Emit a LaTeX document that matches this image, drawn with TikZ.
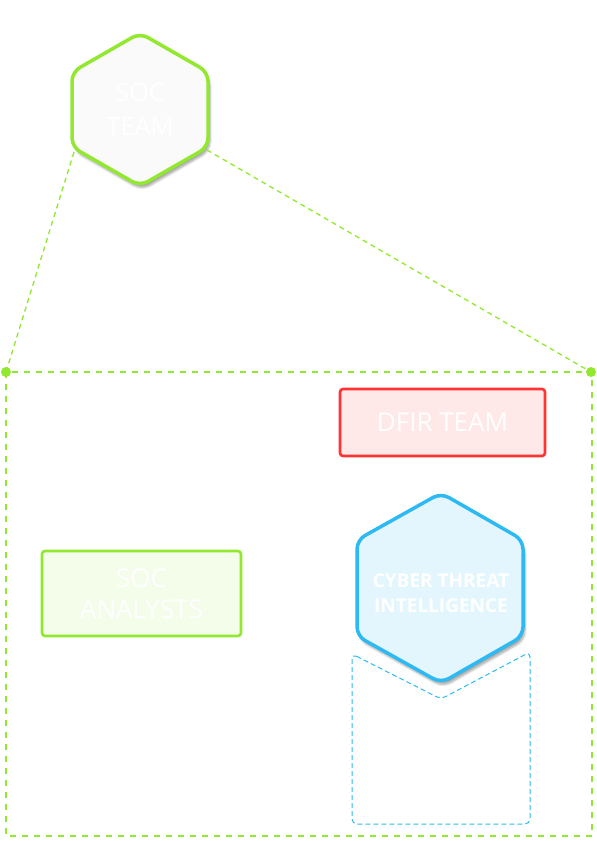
\documentclass[tikz,border=0pt]{standalone}
\usepackage{fontspec}
\setmainfont{Open Sans}
\usetikzlibrary{shadows.blur}
\definecolor{limeG}{HTML}{92E82E}
\definecolor{limeFill}{HTML}{F4FDEA}
\definecolor{hexFill}{HTML}{FAFAFA}
\definecolor{redS}{HTML}{FF3333}
\definecolor{redFill}{HTML}{FFE8E8}
\definecolor{blueS}{HTML}{2DB9F2}
\definecolor{blueFill}{HTML}{E3F6FD}
\tikzset{
  hexshape/.style={line width=3.5pt, rounded corners=9pt, line join=round,
    blur shadow={shadow xshift=2pt, shadow yshift=-4pt, shadow blur steps=6, shadow opacity=35}},
  boxnode/.style={rectangle, rounded corners=3pt, line width=2.6pt, inner sep=0pt, align=center, text=white, font=\fontsize{26}{31}\selectfont},
  label/.style={text=white, align=center, inner sep=0pt},
  linkline/.style={limeG, line width=1.3pt, dash pattern=on 5pt off 4pt},
  frame/.style={limeG, line width=2.8pt, dash pattern=on 6pt off 6pt},
  ctibox/.style={blueS, line width=1pt, dash pattern=on 5pt off 3pt, rounded corners=5pt},
  dot/.style={circle, fill=limeG, inner sep=0pt, minimum size=10pt}
}
\begin{document}
\begin{tikzpicture}[x=1pt,y=-1pt]
\useasboundingbox (0,0) rectangle (597,841);
% outer frame
\draw[frame] (6,372) rectangle (592,836);
% SOC team hexagon
\draw[hexshape, limeG, fill=hexFill] (140,33) -- (208,72) -- (208,147) -- (140,186) -- (72,147) -- (72,72) -- cycle;
\node[label, font=\fontsize{25.5}{34}\selectfont] (socteam) at (140,109) {SOC\\TEAM};
\coordinate (socll) at (74,152);
\coordinate (soclr) at (207,150);
% dots
\node[dot] (dotl) at (6,372) {};
\node[dot] (dotr) at (591,372) {};
\draw[linkline] (socll) -- (dotl.center);
\draw[linkline] (soclr) -- (dotr.center);
% DFIR
\node[boxnode, draw=redS, fill=redFill, minimum width=205pt, minimum height=67pt] (dfir) at (442.5,422.5) {DFIR TEAM};
% SOC analysts
\node[boxnode, draw=limeG, fill=limeFill, minimum width=199pt, minimum height=85pt] (socan) at (141.5,593.5) {SOC\\ANALYSTS};
% CTI dashed container
\draw[ctibox] (352,654) -- (441,699) -- (530,652) -- (530,824) -- (352,824) -- cycle;
% CTI hexagon
\draw[hexshape, blueS, fill=blueFill] (441,493) -- (523,540) -- (523,636) -- (441,683) -- (357,636) -- (357,540) -- cycle;
\node[label, font=\bfseries\fontsize{19}{25}\selectfont] (cti) at (441,593) {CYBER THREAT\\INTELLIGENCE};
\end{tikzpicture}
\end{document}
